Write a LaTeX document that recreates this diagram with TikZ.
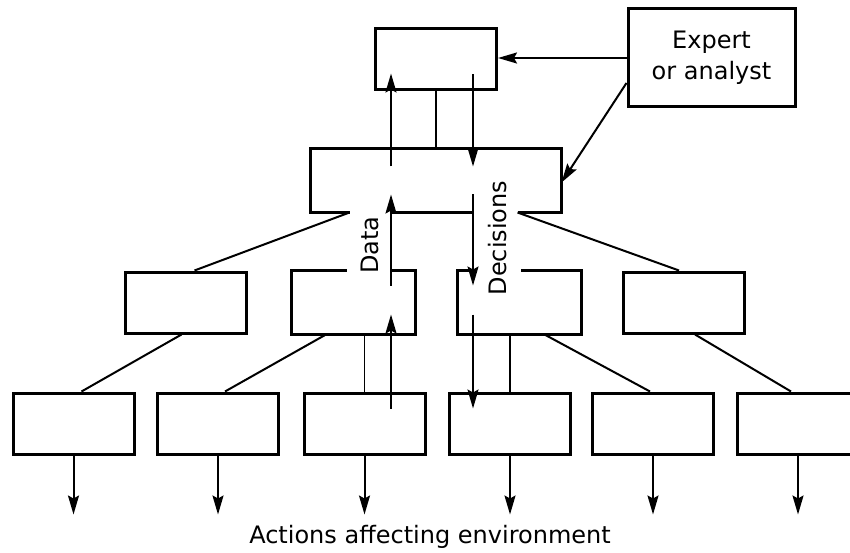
\documentclass[tikz,border=0pt]{standalone}
\usepackage{fontspec}
\setmainfont{DejaVu Sans}
\usepackage{tikz}
\usetikzlibrary{arrows.meta,calc,positioning}

\begin{document}
\begin{tikzpicture}[
    x=1pt, y=-1pt,
    unit/.style={
        rectangle,
        draw=black,
        line width=3pt,
        minimum width=121pt,
        minimum height=61pt,
        inner sep=0pt
    },
    openunit/.style={unit, draw=none},
    frame/.style={line width=3pt, line join=miter},
    link/.style={line width=2pt},
    tie/.style={line width=1.4pt},
    flow/.style={line width=2pt, -{Stealth[length=19pt, width=11pt, inset=3pt]}},
    caption/.style={font=\fontsize{24}{31}\selectfont, align=center, inner sep=0pt}
]
\useasboundingbox (0,0) rectangle (850,553);
% top level
\node (top) [unit] at (436,59.5) {};
\node (expert) [unit, caption, minimum width=167pt, minimum height=98pt] at (711.5,58) {Expert\\or analyst};
\node (mid) [openunit, minimum width=248pt] at (436,180.5) {};
% middle level
\node (A) [unit] at (185.5,302.5) {};
\node (B) [openunit] at (353,302.5) {};
\node (C) [openunit] at (519.5,302.5) {};
\node (D) [unit] at (684,302.5) {};
% bottom level
\node (E) [unit] at (73.5,423.5) {};
\node (F) [unit] at (218,423.5) {};
\node (G) [unit] at (364.5,423.5) {};
\node (H) [unit] at (510,423.5) {};
\node (I) [unit] at (653,423.5) {};
\node (J) [unit] at (798,423.5) {};
\coordinate (data) at (391,0);
\coordinate (dec) at (473,0);
\coordinate (midL) at ($(mid.south west)+(39,0)$);
\coordinate (midR) at ($(mid.south east)+(-44,0)$);
% open edges
\draw [frame] (midL) -- (mid.south west) -- (mid.north west) -- (mid.north east) -- (mid.south east) -- (midR);
\draw [frame] (mid.south -| data) -- (mid.south -| dec);
\draw [frame] (B.north -| data) -- (B.north east) -- (B.south east) -- (B.south west) -- (B.north west) -- ($(B.north west)+(56,0)$);
\draw [frame] (C.north -| dec) -- (C.north west) -- (C.south west) -- (C.south east) -- (C.north east) -- ($(C.north east)+(-61,0)$);
% hierarchy
\draw [tie] (top.south) -- (mid.north);
\draw [link] (midL) -- ([xshift=9pt]A.north);
\draw [link] (midR) -- ([xshift=-5pt]D.north);
\draw [link] ([xshift=-4pt]A.south) -- ([xshift=8pt]E.north);
\draw [link] ([xshift=-27pt]B.south) -- ([xshift=7pt]F.north);
\draw [tie] (G.north) -- (G.north |- B.south);
\draw [tie] (H.north) -- (H.north |- C.south);
\draw [link] ([xshift=25pt]C.south) -- ([xshift=-3pt]I.north);
\draw [link] ([xshift=11pt]D.south) -- ([xshift=-7pt]J.north);
% expert
\draw [flow] (expert.west) -- (expert.west -| top.east);
\draw [flow] ([yshift=-25pt]expert.west) -- ([yshift=-2pt]mid.east);
% data up
\draw [flow] ($(G.north -| data)+(0,17)$) -- ($(B.south -| data)+(0,-20)$);
\draw [flow] ($(B.north -| data)+(0,15)$) -- ($(mid.south -| data)+(0,-18)$);
\draw [flow] ($(mid.north -| data)+(0,18)$) -- ($(top.south -| data)+(0,-18)$);
% decisions down
\draw [flow] ($(top.south -| dec)+(0,-17)$) -- ($(mid.north -| dec)+(0,18)$);
\draw [flow] ($(mid.south -| dec)+(0,-18)$) -- ($(C.north -| dec)+(0,15)$);
\draw [flow] ($(C.south -| dec)+(0,-20)$) -- ($(H.north -| dec)+(0,17)$);
\node (datalabel) [caption, rotate=90] at (370,245) {Data};
\node (declabel) [caption, rotate=90] at (498,238) {Decisions};
% actions
\coordinate [below=59pt of E] (actE);
\coordinate [below=59pt of F] (actF);
\coordinate [below=59pt of G] (actG);
\coordinate [below=59pt of H] (actH);
\coordinate [below=59pt of I] (actI);
\coordinate [below=59pt of J] (actJ);
\draw [flow] (E.south) -- (actE);
\draw [flow] (F.south) -- (actF);
\draw [flow] (G.south) -- (actG);
\draw [flow] (H.south) -- (actH);
\draw [flow] (I.south) -- (actI);
\draw [flow] (J.south) -- (actJ);
\node (actions) [caption] at (430,537) {Actions affecting environment};
\end{tikzpicture}
\end{document}
